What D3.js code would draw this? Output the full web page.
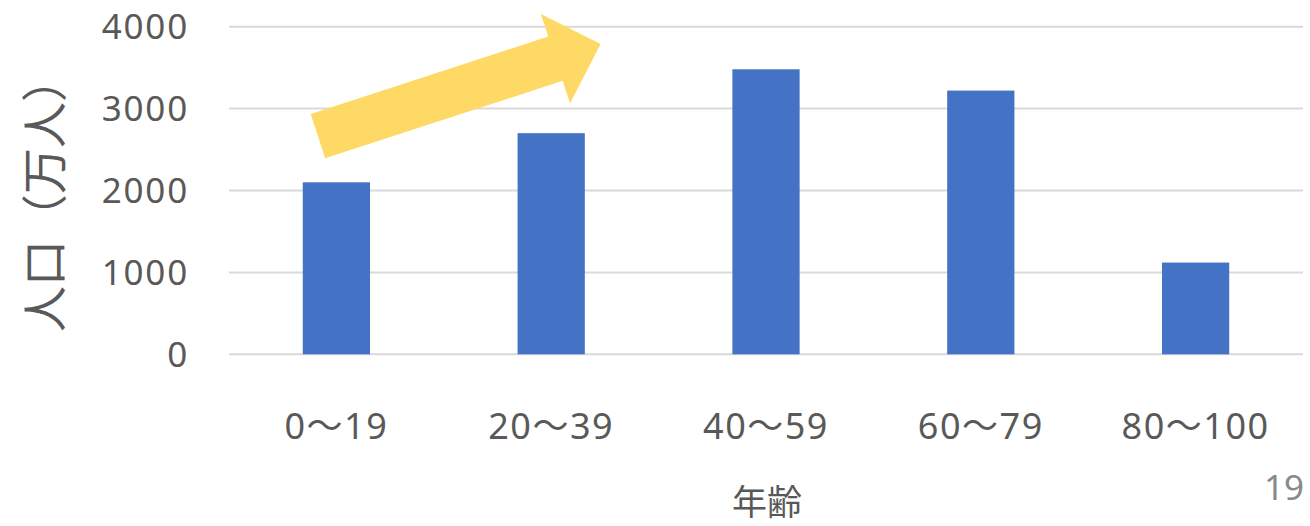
<!DOCTYPE html>
<html>
<head>
<meta charset="utf-8">
<script src="https://cdn.jsdelivr.net/npm/d3@7"></script>
<style>
  body { margin: 0; background: #fff; }
  text { font-family: "Noto Sans", "Noto Sans CJK JP", sans-serif; fill: #595959; }
</style>
</head>
<body>
<svg id="chart" width="1310" height="526"></svg>
<script>
const categories = ['0～19', '20～39', '40～59', '60～79', '80～100'];
const population = [2100, 2700, 3480, 3220, 1120];
const yTicks = [0, 1000, 2000, 3000, 4000];

// arrow annotation: tail and tip in data units
const arrowFrom = { cat: 0, offset: -0.086, value: 2663 };
const arrowTo = { cat: 1, offset: 0.23, value: 3789 };

const svg = d3.select('#chart');

let x = d3.scaleBand()
  .domain(categories)
  .range([229, 1303])
  .paddingInner(0.687)
  .paddingOuter(0.687 / 2);

let y = d3.scaleLinear()
  .domain([0, 4000])
  .range([354.3, 26.7]);

const step = x.step();
const cx = (i, off) => x(categories[i]) + x.bandwidth() / 2 + off * step;

// gridlines
svg.append('g')
  .selectAll('line')
  .data(yTicks)
  .join('line')
  .attr('x1', 229)
  .attr('x2', 1303)
  .attr('y1', d => y(d))
  .attr('y2', d => y(d))
  .attr('stroke', '#d9d9d9')
  .attr('stroke-width', 2);

// y tick labels
svg.append('g')
  .selectAll('text')
  .data(yTicks)
  .join('text')
  .attr('x', 189)
  .attr('y', d => y(d))
  .attr('dy', '0.36em')
  .attr('text-anchor', 'end')
  .style('font-size', '35px')
  .style('letter-spacing', '1.8px')
  .text(d => d);

// bars
svg.append('g')
  .selectAll('rect')
  .data(population)
  .join('rect')
  .attr('x', (d, i) => x(categories[i]))
  .attr('width', x.bandwidth())
  .attr('y', d => y(d))
  .attr('height', d => y(0) - y(d))
  .attr('fill', '#4472c4');

// x labels
svg.append('g')
  .selectAll('text')
  .data(categories)
  .join('text')
  .attr('x', d => x(d) + x.bandwidth() / 2)
  .attr('y', 426)
  .attr('dy', '0.36em')
  .attr('text-anchor', 'middle')
  .style('font-size', '36px')
  .style('letter-spacing', '1.5px')
  .text(d => d);

// axis titles
svg.append('text')
  .attr('transform', 'translate(45,194) rotate(-90)')
  .attr('text-anchor', 'middle')
  .attr('dy', '0.35em')
  .style('font-family', '"Noto Sans CJK JP", sans-serif')
  .style('font-size', '46px')
  .text('人口（万人）');

svg.append('text')
  .attr('x', 767)
  .attr('y', 503)
  .attr('dy', '0.35em')
  .attr('text-anchor', 'middle')
  .style('font-family', '"Noto Sans CJK JP", sans-serif')
  .style('font-size', '35px')
  .text('年齢');

// page number
svg.append('text')
  .attr('x', 1304)
  .attr('y', 487)
  .attr('dy', '0.36em')
  .attr('text-anchor', 'end')
  .style('font-size', '35px')
  .style('fill', '#898989')
  .text('19');

// yellow arrow
const x0 = cx(arrowFrom.cat, arrowFrom.offset), y0 = y(arrowFrom.value);
const x1 = cx(arrowTo.cat, arrowTo.offset), y1 = y(arrowTo.value);
const len = Math.hypot(x1 - x0, y1 - y0);
const shaftW = 46.5, headW = 94, headL = 47.5;

const pts = [
  [0, -shaftW / 2], [len - headL, -shaftW / 2], [len - headL, -headW / 2],
  [len, 0],
  [len - headL, headW / 2], [len - headL, shaftW / 2], [0, shaftW / 2]
];
const ang = Math.atan2(y1 - y0, x1 - x0) * 180 / Math.PI;

svg.append('polygon')
  .attr('points', pts.map(p => p.join(',')).join(' '))
  .attr('transform', `translate(${x0},${y0}) rotate(${ang})`)
  .attr('fill', '#ffd966');
</script>
</body>
</html>
